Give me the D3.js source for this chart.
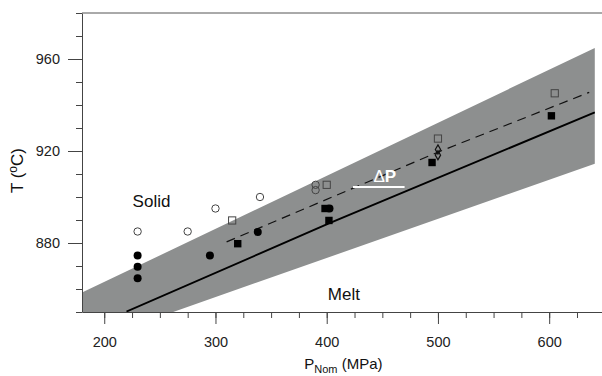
<!DOCTYPE html>
<html>
<head>
<meta charset="utf-8">
<script src="https://cdn.jsdelivr.net/npm/d3@7"></script>
<style>
  body { margin: 0; background: #fff; }
  svg { display: block; font-family: "Liberation Sans", Arial, sans-serif; }
  .axis path, .axis line { stroke: #444; }
  .axis text { fill: #222; font-size: 14.5px; }
</style>
</head>
<body>
<div id="chart"></div>
<script>
// axis ticks
const xMajorTicks = [200, 300, 400, 500, 600];
const yMajorTicks = [880, 920, 960];

// uncertainty band edges [P, T]
const bandUpper = [[175, 857.3], [641, 964.8]];
const bandLower = [[641, 914.5], [262, 850], [175, 830]];

// solid (melt) curve and dashed (shifted) curve
const meltCurve = [[220, 850.2], [402, 888.5], [641, 936.8]];
const shiftedCurve = [[310, 880.5], [500, 919.5], [636, 945.5]];

// delta P marker
const deltaP = [[423.6, 904.3], [470, 904.3]];

// measurements
const openCircles = [[230, 885], [275, 885], [300, 895], [340, 900], [390, 905.3], [390, 903]];
const filledCircles = [[230, 874.6], [230, 869.7], [230, 864.7], [295, 874.6], [338, 884.8], [402.5, 895]];
const openSquares = [[315, 889.8], [400, 905.3], [500, 925.4], [605, 945.1]];
const filledSquares = [[320, 879.7], [398.5, 895], [402, 889.8], [494.7, 915], [602, 935.3]];
const openDiamonds = [[500, 920.7], [500, 918.2]];

const W = 602, H = 376;
const margin = { top: 13, right: 0, bottom: 64, left: 82 };

const svg = d3.select('#chart').append('svg').attr('width', W).attr('height', H);

const x = d3.scaleLinear().domain([180, 650]).range([margin.left, 604.8]);
const y = d3.scaleLinear().domain([850, 980]).range([H - margin.bottom, margin.top]);

svg.append('clipPath').attr('id', 'plot')
  .append('rect')
  .attr('x', x(180)).attr('y', y(980))
  .attr('width', x(650) - x(180)).attr('height', y(850) - y(980));

const plot = svg.append('g').attr('clip-path', 'url(#plot)');

// band
plot.append('path')
  .datum(bandUpper.concat(bandLower))
  .attr('d', d3.line().x(d => x(d[0])).y(d => y(d[1])))
  .attr('fill', '#8d8f8f');

const line = d3.line().x(d => x(d[0])).y(d => y(d[1]));

plot.append('path').datum(meltCurve).attr('d', line)
  .attr('fill', 'none').attr('stroke', '#000').attr('stroke-width', 1.9);

plot.append('path').datum(shiftedCurve).attr('d', line)
  .attr('fill', 'none').attr('stroke', '#111').attr('stroke-width', 1.2)
  .attr('stroke-dasharray', '9,6');

plot.append('path').datum(deltaP).attr('d', line)
  .attr('fill', 'none').attr('stroke', '#fff').attr('stroke-width', 2);

const dp = svg.append('text')
  .attr('x', x(d3.mean(deltaP, d => d[0])) + 6).attr('y', y(deltaP[0][1]) - 5)
  .attr('text-anchor', 'middle').attr('fill', '#fff')
  .style('font-size', '17px');
dp.append('tspan').text('Δ');
dp.append('tspan').style('font-weight', 'bold').text('P');

// markers
plot.selectAll('.oc').data(openCircles).enter().append('circle')
  .attr('cx', d => x(d[0])).attr('cy', d => y(d[1])).attr('r', 3.7)
  .attr('fill', 'none').attr('stroke', '#444').attr('stroke-width', 1);

plot.selectAll('.fc').data(filledCircles).enter().append('circle')
  .attr('cx', d => x(d[0])).attr('cy', d => y(d[1])).attr('r', 4)
  .attr('fill', '#000');

plot.selectAll('.os').data(openSquares).enter().append('rect')
  .attr('x', d => x(d[0]) - 3.6).attr('y', d => y(d[1]) - 3.6)
  .attr('width', 7.2).attr('height', 7.2)
  .attr('fill', 'none').attr('stroke', '#444').attr('stroke-width', 1);

plot.selectAll('.fs').data(filledSquares).enter().append('rect')
  .attr('x', d => x(d[0]) - 3.7).attr('y', d => y(d[1]) - 3.7)
  .attr('width', 7.4).attr('height', 7.4)
  .attr('fill', '#000');

plot.selectAll('.od').data(openDiamonds).enter().append('path')
  .attr('transform', d => `translate(${x(d[0])},${y(d[1])})`)
  .attr('d', d3.symbol().type(d3.symbolDiamond).size(24))
  .attr('fill', 'none').attr('stroke', '#111').attr('stroke-width', 1.2);

// region labels
svg.append('text').attr('x', x(225.5)).attr('y', y(895.5)).style('font-size', '17px').attr('fill', '#111').text('Solid');
svg.append('text').attr('x', x(401)).attr('y', y(855.2)).style('font-size', '17px').attr('fill', '#111').text('Melt');

// axes
const xMinor = d3.range(200, 650, 25);
const yMinor = d3.range(850, 981, 10);

svg.append('g').attr('class', 'axis')
  .attr('transform', `translate(0,${y(850)})`)
  .call(d3.axisBottom(x).tickValues(xMinor).tickSize(6).tickFormat('').tickSizeOuter(0));
svg.append('g').attr('class', 'axis')
  .attr('transform', `translate(0,${y(850)})`)
  .call(d3.axisBottom(x).tickValues(xMajorTicks).tickSize(12).tickPadding(13).tickSizeOuter(0))
  .call(g => g.select('.domain').remove());

svg.append('g').attr('class', 'axis')
  .attr('transform', `translate(${x(180)},0)`)
  .call(d3.axisLeft(y).tickValues(yMinor).tickSize(6).tickFormat('').tickSizeOuter(0));
svg.append('g').attr('class', 'axis')
  .attr('transform', `translate(${x(180)},0)`)
  .call(d3.axisLeft(y).tickValues(yMajorTicks).tickSize(14).tickPadding(8).tickSizeOuter(0))
  .call(g => g.select('.domain').remove());

// top frame line
svg.append('line')
  .attr('x1', x(180)).attr('x2', W).attr('y1', y(980)).attr('y2', y(980))
  .attr('stroke', '#555').attr('stroke-width', 1);

// axis titles
const xt = svg.append('text').attr('x', x(415)).attr('y', 369)
  .attr('text-anchor', 'middle').style('font-size', '15px').attr('fill', '#111');
xt.append('tspan').text('P');
xt.append('tspan').attr('dy', 4).style('font-size', '11px').text('Nom');
xt.append('tspan').attr('dy', -4).text(' (MPa)');

const yt = svg.append('text')
  .attr('transform', `translate(23,${y(911.5)}) rotate(-90)`)
  .attr('text-anchor', 'middle').style('font-size', '17px').attr('fill', '#111');
yt.append('tspan').text('T (');
yt.append('tspan').attr('dy', -6).style('font-size', '12px').text('o');
yt.append('tspan').attr('dy', 6).text('C)');
</script>
</body>
</html>
